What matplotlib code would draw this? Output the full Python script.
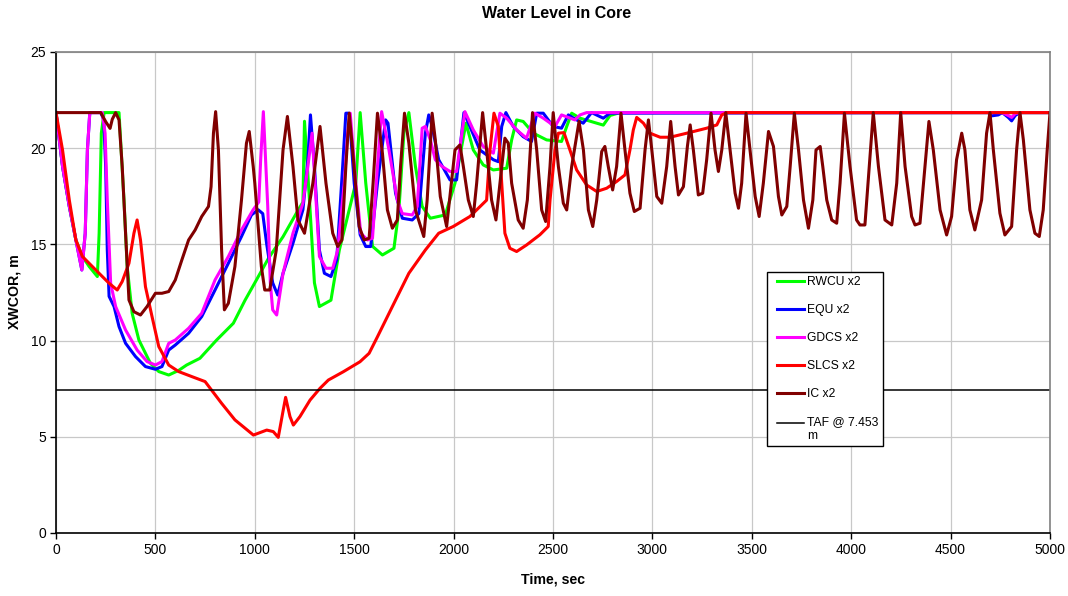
import numpy as np
import matplotlib
matplotlib.use("Agg")
import matplotlib.pyplot as plt
from matplotlib.legend_handler import HandlerLine2D

plt.rcParams["font.family"] = ["Liberation Sans", "DejaVu Sans"]

# RWCU x2
t_rwcu = [0, 33, 67, 100, 133, 167, 208, 217, 228, 242, 317, 342, 358, 383, 417, 475, 517,
          567, 617, 657, 724, 808, 892, 951, 1000, 1070, 1142, 1208, 1242, 1250, 1275, 1300,
          1325, 1383, 1425, 1475, 1508, 1530, 1558, 1592, 1642, 1700, 1725, 1750, 1775, 1808,
          1842, 1883, 1958, 2007, 2062, 2099, 2149, 2200, 2267, 2292, 2317, 2350, 2401, 2468,
          2543, 2569, 2594, 2636, 2720, 2753, 2787, 2837, 5000]
lvl_rwcu = [21.85, 19.05, 16.97, 15.23, 14.37, 13.85, 13.33, 15.58, 20.78, 21.85, 21.85, 17.3,
            13.85, 11.42, 10.03, 8.82, 8.39, 8.21, 8.45, 8.73, 9.08, 10.03, 10.9, 12.1, 13.0,
            14.3, 15.4, 16.6, 17.2, 21.4, 17.3, 13.0, 11.77, 12.1, 14.7, 16.8, 18.2, 21.85,
            18.2, 14.9, 14.45, 14.8, 16.8, 20.8, 21.85, 19.05, 16.97, 16.36, 16.53, 18.18,
            21.3, 19.91, 19.13, 18.87, 18.96, 20.43, 21.47, 21.39, 20.78, 20.43, 20.35, 21.13,
            21.82, 21.56, 21.3, 21.2, 21.7, 21.85, 21.85]

# EQU x2
t_equ = [0, 33, 67, 100, 130, 147, 158, 170, 225, 240, 250, 258, 267, 292, 317, 350, 400, 450,
         500, 533, 567, 600, 667, 733, 800, 867, 933, 983, 1017, 1040, 1060, 1090, 1115, 1142,
         1192, 1242, 1267, 1280, 1300, 1325, 1350, 1383, 1412, 1442, 1458, 1475, 1500, 1530,
         1558, 1583, 1617, 1658, 1670, 1708, 1742, 1792, 1825, 1858, 1875, 1892, 1925, 1982,
         2015, 2052, 2082, 2132, 2200, 2225, 2242, 2263, 2300, 2350, 2392, 2418, 2451, 2501,
         2543, 2577, 2619, 2652, 2694, 2753, 2787, 4690, 4706, 4740, 4760, 4790, 4807, 4825,
         4849, 5000]
lvl_equ = [21.85, 19.05, 16.97, 15.23, 13.67, 15.58, 19.91, 21.85, 21.85, 21.5, 19.0, 14.71,
           12.3, 11.77, 10.73, 9.86, 9.17, 8.65, 8.51, 8.65, 9.51, 9.77, 10.38, 11.25, 12.63,
           14.02, 15.41, 16.53, 16.8, 16.6, 15.0, 13.0, 12.37, 13.5, 15.06, 16.8, 19.4, 21.73,
           19.05, 14.7, 13.5, 13.33, 14.2, 19.05, 21.82, 21.82, 18.18, 15.5, 14.89, 14.89,
           18.18, 21.47, 21.3, 17.66, 16.36, 16.27, 16.6, 20.78, 21.73, 21.13, 19.4, 18.35,
           18.35, 21.85, 21.13, 19.91, 19.4, 19.3, 21.13, 21.85, 21.13, 20.6, 20.35, 21.82,
           21.82, 21.13, 21.04, 21.73, 21.47, 21.3, 21.85, 21.56, 21.82, 21.85, 21.68, 21.73,
           21.85, 21.6, 21.42, 21.7, 21.85, 21.85]

# GDCS x2
t_gdcs = [0, 33, 67, 100, 130, 147, 158, 170, 233, 247, 258, 275, 300, 350, 408, 458, 500, 533,
          567, 600, 667, 733, 800, 867, 933, 991, 1020, 1030, 1043, 1065, 1078, 1090, 1110,
          1142, 1192, 1242, 1267, 1288, 1308, 1325, 1358, 1392, 1417, 1450, 1467, 1480, 1508,
          1533, 1567, 1592, 1617, 1638, 1675, 1717, 1742, 1792, 1817, 1842, 1858, 1883, 1908,
          1942, 1982, 2015, 2057, 2099, 2149, 2200, 2233, 2267, 2317, 2367, 2409, 2451, 2510,
          2543, 2610, 2636, 2669, 4760, 4790, 4807, 4825, 4849, 5000]
lvl_gdcs = [21.85, 19.05, 16.97, 15.23, 13.67, 15.58, 19.91, 21.85, 21.85, 20.78, 17.3, 12.98,
            11.77, 10.55, 9.51, 8.91, 8.73, 8.91, 9.86, 10.03, 10.64, 11.42, 13.15, 14.37,
            15.75, 16.79, 17.2, 19.5, 21.9, 17.0, 13.0, 11.6, 11.33, 13.5, 15.58, 17.14, 19.05,
            20.78, 17.3, 14.37, 13.76, 13.76, 14.7, 18.18, 20.78, 21.82, 18.18, 15.58, 15.23,
            15.32, 19.05, 21.9, 19.9, 17.3, 16.6, 16.53, 16.97, 21.04, 21.13, 20.43, 19.4,
            19.05, 18.79, 18.79, 21.9, 20.95, 20.09, 19.74, 21.82, 21.56, 20.95, 20.52, 21.82,
            21.56, 21.13, 21.73, 21.47, 21.73, 21.85, 21.85, 21.7, 21.6, 21.8, 21.85, 21.85]

# SLCS x2
t_slcs = [0, 33, 67, 100, 133, 200, 267, 308, 333, 367, 392, 408, 425, 450, 483, 517, 567, 617,
          683, 750, 833, 900, 993, 1060, 1093, 1118, 1143, 1155, 1177, 1194, 1227, 1278, 1328,
          1370, 1445, 1529, 1575, 1617, 1692, 1775, 1858, 1925, 1998, 2082, 2166, 2183, 2203,
          2225, 2242, 2258, 2283, 2317, 2367, 2434, 2476, 2485, 2510, 2527, 2555, 2585, 2619,
          2669, 2720, 2770, 2820, 2862, 2887, 2904, 2921, 2955, 2988, 3039, 3089, 3173, 3273,
          3324, 3349, 3374, 5000]
lvl_slcs = [21.85, 19.9, 17.3, 15.23, 14.37, 13.67, 12.98, 12.63, 13.07, 14.02, 15.58, 16.27,
            15.23, 12.8, 11.25, 9.69, 8.73, 8.39, 8.13, 7.87, 6.74, 5.88, 5.09, 5.35, 5.27,
            4.97, 6.39, 7.05, 6.05, 5.61, 6.05, 6.91, 7.52, 7.95, 8.38, 8.9, 9.34, 10.2, 11.77,
            13.5, 14.71, 15.58, 15.93, 16.45, 17.3, 19.91, 21.82, 21.13, 18.18, 15.58, 14.8,
            14.63, 14.97, 15.5, 15.93, 17.3, 19.91, 20.78, 20.81, 19.91, 18.87, 18.09, 17.75,
            17.92, 18.27, 18.61, 19.91, 20.95, 21.6, 21.3, 20.78, 20.57, 20.57, 20.78, 21.04,
            21.21, 21.73, 21.85, 21.85]

# IC x2
t_ic = [0, 225, 250, 272, 283, 300, 317, 333, 350, 367, 392, 425, 458, 500, 533, 567, 600, 633,
        667, 700, 733, 767, 780, 792, 803, 817, 833, 847, 867, 900, 933, 958, 972, 992, 1000,
        1033, 1050, 1075, 1108, 1142, 1164, 1192, 1217, 1250, 1292, 1328, 1358, 1392, 1417,
        1438, 1458, 1475, 1492, 1525, 1550, 1575, 1595, 1617, 1642, 1667, 1692, 1717, 1733,
        1753, 1775, 1808, 1850, 1867, 1892, 1908, 1933, 1965, 2007, 2032, 2049, 2074, 2099,
        2116, 2146, 2166, 2191, 2213, 2233, 2258, 2275, 2292, 2325, 2350, 2371, 2397, 2418,
        2443, 2463, 2485, 2501, 2527, 2552, 2569, 2594, 2631, 2653, 2678, 2700, 2720, 2745,
        2761, 2778, 2800, 2820, 2842, 2862, 2887, 2909, 2938, 2963, 2980, 2997, 3022, 3047,
        3072, 3092, 3114, 3131, 3156, 3176, 3190, 3206, 3231, 3253, 3273, 3295, 3315, 3332,
        3349, 3369, 3391, 3416, 3433, 3449, 3471, 3491, 3517, 3537, 3558, 3584, 3609, 3634,
        3651, 3676, 3693, 3714, 3735, 3760, 3785, 3807, 3823, 3844, 3857, 3877, 3902, 3927,
        3944, 3966, 3994, 4027, 4044, 4069, 4091, 4111, 4137, 4170, 4204, 4229, 4249, 4271,
        4304, 4321, 4346, 4371, 4391, 4413, 4447, 4480, 4505, 4530, 4556, 4572, 4597, 4622,
        4656, 4681, 4698, 4715, 4748, 4773, 4807, 4832, 4849, 4866, 4899, 4924, 4946, 4966,
        4986, 5000]
lvl_ic = [21.85, 21.85, 21.38, 21.03, 21.5, 21.85, 21.47, 19.05, 15.58, 12.11, 11.5, 11.33,
          11.77, 12.46, 12.46, 12.55, 13.15, 14.19, 15.23, 15.75, 16.45, 16.97, 18.0, 20.78,
          21.9, 19.91, 14.71, 11.6, 11.94, 13.85, 17.31, 20.26, 20.87, 19.05, 18.18, 13.85,
          12.63, 12.63, 14.71, 19.91, 21.65, 19.05, 16.27, 15.58, 18.18, 21.13, 18.18, 15.58,
          14.89, 15.23, 19.05, 21.82, 19.91, 15.93, 15.23, 15.32, 18.18, 21.82, 19.74, 16.79,
          15.84, 16.27, 19.05, 21.82, 20.26, 16.79, 15.41, 17.3, 21.82, 20.43, 17.49, 15.93,
          19.91, 20.17, 19.05, 17.31, 16.45, 18.18, 21.85, 19.91, 17.31, 16.27, 18.18, 20.52,
          20.26, 18.18, 16.27, 15.84, 17.31, 21.85, 19.91, 16.79, 16.19, 19.05, 21.85, 19.05,
          17.14, 16.79, 19.05, 21.39, 19.91, 16.79, 15.93, 17.31, 19.83, 20.09, 19.05, 17.83,
          19.05, 21.82, 19.91, 17.66, 16.71, 16.88, 19.91, 21.47, 19.91, 17.49, 17.14, 19.05,
          21.39, 19.05, 17.57, 18.0, 20.09, 21.21, 19.91, 17.57, 17.66, 19.4, 21.82, 19.91,
          18.79, 19.91, 21.85, 19.91, 17.66, 16.88, 18.18, 21.82, 19.91, 17.49, 16.45, 18.18,
          20.87, 20.09, 17.49, 16.53, 16.97, 19.05, 21.82, 19.91, 17.31, 15.84, 17.31, 19.91,
          20.09, 19.05, 17.31, 16.27, 16.1, 18.18, 21.82, 19.05, 16.27, 16.01, 16.01, 19.05,
          21.85, 19.05, 16.27, 16.01, 18.18, 21.85, 19.05, 16.45, 16.01, 16.1, 19.05, 21.39,
          19.91, 16.79, 15.49, 16.45, 19.4, 20.78, 19.91, 16.79, 15.75, 17.31, 20.78, 21.85,
          19.91, 16.62, 15.49, 15.93, 19.91, 21.85, 20.43, 16.79, 15.58, 15.41, 16.79, 19.91,
          21.85]

taf = 7.453


# line handle with a left gap; optionally raised to the first line of a two-line label
class PaddedLine(HandlerLine2D):
    def __init__(self, raise_by=0.0, **kw):
        super().__init__(xpad=0.5, **kw)
        self.raise_by = raise_by

    def create_artists(self, legend, orig_handle, xdescent, ydescent, width, height,
                       fontsize, trans):
        arts = super().create_artists(legend, orig_handle, xdescent, ydescent, width,
                                      height, fontsize, trans)
        for a in arts:
            a.set_ydata(np.asarray(a.get_ydata()) + self.raise_by * fontsize)
        return arts


fig = plt.figure(figsize=(10.68, 5.96), dpi=100)
ax = fig.add_axes([56 / 1068, 1 - 533 / 596, 994 / 1068, 481 / 596])

lw = 2.2
l1, = ax.plot(t_rwcu, lvl_rwcu, color="#00ff00", lw=lw, label="RWCU x2", solid_joinstyle="round")
l2, = ax.plot(t_equ, lvl_equ, color="#0000ff", lw=lw, label="EQU x2", solid_joinstyle="round")
l3, = ax.plot(t_gdcs, lvl_gdcs, color="#ff00ff", lw=lw, label="GDCS x2", solid_joinstyle="round")
l4, = ax.plot(t_slcs, lvl_slcs, color="#ff0000", lw=lw, label="SLCS x2", solid_joinstyle="round")
l5, = ax.plot(t_ic, lvl_ic, color="#800000", lw=lw, label="IC x2", solid_joinstyle="round")
taf_line, = ax.plot([0, 5000], [taf, taf], color="black", lw=1.1, label="TAF @ 7.453\nm")

ax.set_xlim(0, 5000)
ax.set_ylim(0, 25)
ax.set_xticks(np.arange(0, 5001, 500))
ax.set_yticks(np.arange(0, 26, 5))
ax.grid(True, color="#c8c8c8", lw=0.9)
ax.set_axisbelow(True)
ax.tick_params(labelsize=10, length=4, width=1, pad=3)

for s in ("top", "right"):
    ax.spines[s].set_color("#808080")
    ax.spines[s].set_linewidth(1.2)
for s in ("left", "bottom"):
    ax.spines[s].set_color("black")
    ax.spines[s].set_linewidth(1.2)

hmap = {h: PaddedLine() for h in (l1, l2, l3, l4, l5)}
hmap[taf_line] = PaddedLine(raise_by=0.55)
leg = ax.legend(loc="upper left", bbox_to_anchor=(0.715, 0.5426), borderaxespad=0,
                fontsize=8.7, frameon=True, fancybox=False, edgecolor="black",
                framealpha=1, handlelength=2.7, handletextpad=0.3, labelspacing=1.32,
                borderpad=0.35, handler_map=hmap)
leg.get_frame().set_linewidth(1.0)

fig.text(557 / 1068, 1 - 14 / 596, "Water Level in Core", ha="center", va="center",
         fontsize=11.5, fontweight="bold")
fig.text(553 / 1068, 1 - 580 / 596, "Time, sec", ha="center", va="center",
         fontsize=10.2, fontweight="bold")
fig.text(15 / 1068, 1 - 292 / 596, "XWCOR, m", ha="center", va="center", rotation=90,
         fontsize=10.2, fontweight="bold")

fig.savefig("out.png", dpi=100)
